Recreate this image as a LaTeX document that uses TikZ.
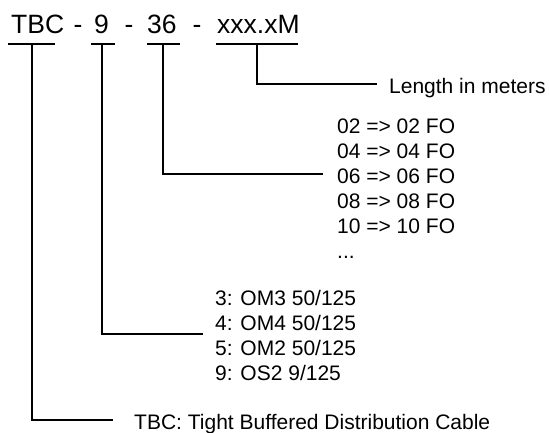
\documentclass[tikz,border=0pt]{standalone}
\usepackage{fontspec}
\setmainfont{Liberation Sans}
\usetikzlibrary{calc}
\tikzset{
  codepart/.style={inner sep=0pt, anchor=base west, font=\fontsize{26.5}{30}\selectfont},
  separator/.style={codepart, anchor=base},
  note/.style={inner sep=0pt, anchor=base west, text height=18pt, text depth=0pt,
    font=\fontsize{21}{25}\selectfont},
  underline/.style={line width=2pt},
  wire/.style={line width=2pt}
}

\begin{document}
\begin{tikzpicture}[x=1pt, y=-1pt]
  \useasboundingbox (0,0) rectangle (549,432);
  \node[codepart] (cable) at (11,33) {TBC};
  \node[separator] (sep1) at (78,33) {-};
  \node[codepart] (fibre) at (94,33) {9};
  \node[separator] (sep2) at (129,33) {-};
  \node[codepart] (count) at (147,33) {36};
  \node[separator] (sep3) at (197,33) {-};
  \node[codepart] (length) at (217,33) {xxx.xM};
  \draw[underline] (8,44) -- (55,44);
  \draw[underline] (91,44) -- (115,44);
  \draw[underline] (147,44) -- (180,44);
  \draw[underline] (216,44) -- (298,44);
  \coordinate (cable-tap) at (32,44);
  \coordinate (fibre-tap) at (102,44);
  \coordinate (count-tap) at (163,44);
  \coordinate (length-tap) at (257,44);
  \node[note] (lengthnote) at (389,93) {Length in meters};
  \foreach \n [count=\i] in {02,04,06,08,10}
    \node[note] (count\i) at (337,108+25*\i) {\n{} => \n{} FO};
  \node[note] (countmore) at (337,258) {...};
  \foreach \t [count=\i] in {3: OM3 50/125, 4: OM4 50/125, 5: OM2 50/125, 9: OS2 9/125}
    \node[note] (type\i) at (215,280+25*\i) {\t};
  \node[note] (cablenote) at (134,429) {TBC: Tight Buffered Distribution Cable};
  \draw[wire, shorten >=12pt] (length-tap) |- (lengthnote.west);
  \draw[wire, shorten >=14pt] (count-tap) |- (count3.west);
  \draw[wire, shorten >=12pt] (fibre-tap) |- ($(type2.west)!.5!(type3.west)$);
  \draw[wire, shorten >=21pt] (cable-tap) |- (cablenote.west);
\end{tikzpicture}
\end{document}
